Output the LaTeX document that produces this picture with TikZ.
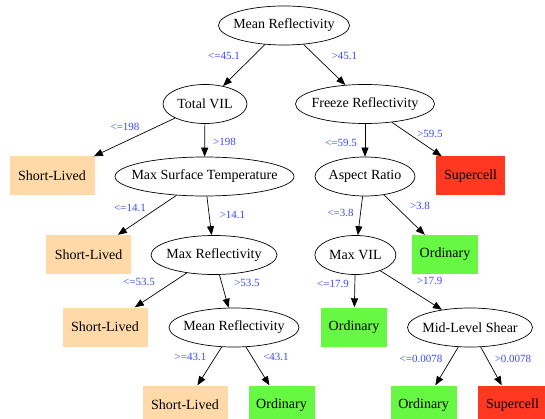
\documentclass[tikz,border=0pt]{standalone}
\usepackage{fontspec}
\setmainfont{Liberation Serif}
\usetikzlibrary{shapes.geometric,arrows.meta}
\definecolor{shortcol}{HTML}{FFDAA8}
\definecolor{ordcol}{HTML}{66F842}
\definecolor{supercol}{HTML}{FF3822}
\definecolor{labcol}{HTML}{3B48FF}
\tikzset{
  split/.style={draw, ellipse, line width=0.7pt, inner sep=0pt,
    minimum height=39pt, minimum width=#1,
    font=\fontsize{14}{16}\selectfont},
  leaf/.style={rectangle, inner sep=0pt, minimum height=39pt,
    minimum width=#1, font=\fontsize{14}{16}\selectfont},
  shortlived/.style={leaf=85pt, fill=shortcol},
  ordinary/.style={leaf=66pt, fill=ordcol},
  supercell/.style={leaf=69pt, fill=supercol},
  cond/.style={text=labcol, inner sep=0pt, font=\fontsize{11}{12}\selectfont},
  branch/.style={line width=0.7pt, -{Triangle[length=9pt,width=7pt]}}
}
\newcommand{\tx}[1]{\makebox[0pt]{#1}}
\begin{document}
\begin{tikzpicture}[x=1pt,y=-1pt]
    \useasboundingbox (0,0) rectangle (545,419);
    % splits
    \node[split=131pt] (meanrefl) at (284,25.5) {\tx{Mean Reflectivity}};
    \node[split=84pt]  (totalvil) at (205,104) {\tx{Total VIL}};
    \node[split=139pt] (freeze) at (365,104) {\tx{Freeze Reflectivity}};
    \node[split=179pt] (surftemp) at (204.5,176.5) {\tx{Max Surface Temperature}};
    \node[split=100pt] (aspect) at (365,176.5) {\tx{Aspect Ratio}};
    \node[split=126pt] (maxrefl) at (214,255) {\tx{Max Reflectivity}};
    \node[split=81pt]  (maxvil) at (355.4,255) {\tx{Max VIL}};
    \node[split=130pt] (meanreflb) at (234,327.5) {\tx{Mean Reflectivity}};
    \node[split=125pt] (shear) at (470,327.5) {\tx{Mid-Level Shear}};
    % leaves
    \node[shortlived] (shorta) at (52,176) {Short-Lived};
    \node[supercell]  (supera) at (470.6,176) {Supercell};
    \node[shortlived] (shortb) at (88.6,254.5) {Short-Lived};
    \node[ordinary]   (orda) at (445,254.5) {Ordinary};
    \node[shortlived] (shortc) at (105,327) {Short-Lived};
    \node[ordinary]   (ordb) at (354,327) {Ordinary};
    \node[shortlived] (shortd) at (185,405) {Short-Lived};
    \node[ordinary]   (ordc) at (281.5,405) {Ordinary};
    \node[ordinary]   (ordd) at (423.6,405) {Ordinary};
    \node[supercell]  (superb) at (512.5,405) {Supercell};
    % branches
    \draw[branch] (meanrefl) -- (totalvil);
    \draw[branch] (meanrefl) -- (freeze);
    \draw[branch] (totalvil) -- (shorta);
    \draw[branch] (totalvil) -- (surftemp);
    \draw[branch] (freeze) -- (aspect);
    \draw[branch] (freeze) -- (supera);
    \draw[branch] (surftemp) -- (shortb);
    \draw[branch] (surftemp) -- (maxrefl);
    \draw[branch] (aspect) -- (maxvil);
    \draw[branch] (aspect) -- (orda);
    \draw[branch] (maxrefl) -- (shortc);
    \draw[branch] (maxrefl) -- (meanreflb);
    \draw[branch] (maxvil) -- (ordb);
    \draw[branch] (maxvil) -- (shear);
    \draw[branch] (meanreflb) -- (shortd);
    \draw[branch] (meanreflb) -- (ordc);
    \draw[branch] (shear) -- (ordd);
    \draw[branch] (shear) -- (superb);
    % thresholds
    \node[cond] (c1) at (224,55.6) {<=45.1};
    \node[cond] (c2) at (344.5,55.6) {>45.1};
    \node[cond] (c3) at (125,127) {<=198};
    \node[cond] (c4) at (224.5,142) {>198};
    \node[cond] (c5) at (341,142.5) {<=59.5};
    \node[cond] (c6) at (430,134) {>59.5};
    \node[cond] (c7) at (130,208) {<=14.1};
    \node[cond] (c8) at (232.5,215) {>14.1};
    \node[cond] (c9) at (340.6,213) {<=3.8};
    \node[cond] (c10) at (420,206) {>3.8};
    \node[cond] (c11) at (139,281.7) {<=53.5};
    \node[cond] (c12) at (247,283) {>53.5};
    \node[cond] (c13) at (333,284) {<=17.9};
    \node[cond] (c14) at (429.6,281) {>17.9};
    \node[cond] (c15) at (190.5,357) {>=43.1};
    \node[cond] (c16) at (276,357) {<43.1};
    \node[cond] (c17) at (421,359) {<=0.0078};
    \node[cond] (c18) at (513,359) {>0.0078};
\end{tikzpicture}
\end{document}
